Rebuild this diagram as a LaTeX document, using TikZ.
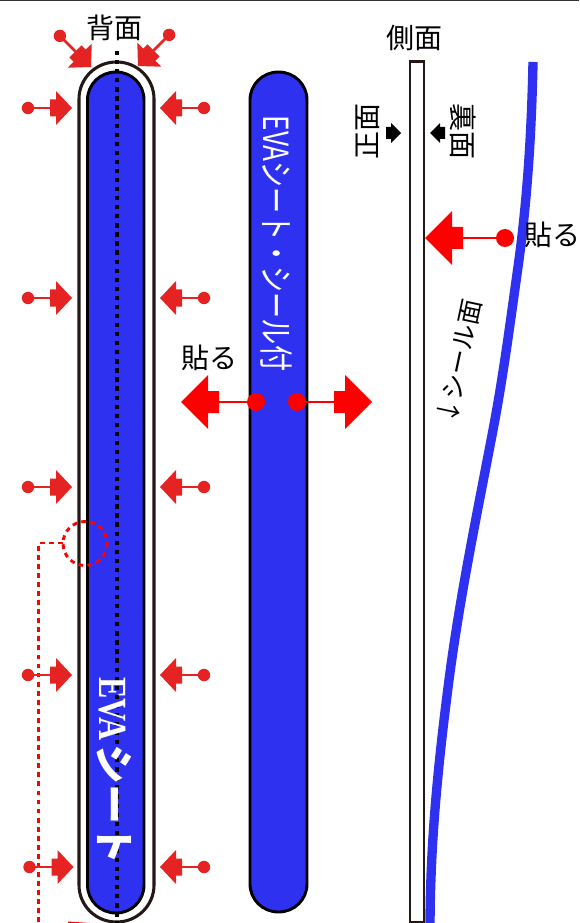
\documentclass[tikz,border=0pt]{standalone}
\usepackage{graphicx}
\usepackage{fontspec}
\setmainfont{Noto Sans CJK JP}
\newfontfamily\latinserif{Liberation Serif}
\definecolor{sheet}{HTML}{2E32F0}
\definecolor{pushred}{HTML}{E52322}
\definecolor{stick}{HTML}{231815}
\tikzset{
  x=0.75pt,y=-0.75pt,
  pusher/.pic={
    \fill (0,0) -- (-16,-17) -- (-16,-8.5) -- (-22,-8.5) -- (-22,8.5) -- (-16,8.5) -- (-16,17) -- cycle;
    \draw[line width=2pt,pushred] (-22,0) -- (-44,0);
    \fill (-44,0) circle[radius=6.2];
  },
  bigpusher/.pic={
    \fill (0,0) -- (-27,-27) -- (-27,-11) -- (-38,-11) -- (-38,11) -- (-27,11) -- (-27,27) -- cycle;
    \draw[line width=0.9pt,red] (-38,0) -- (-75,0);
    \fill (-75,0) circle[radius=9];
  },
  widepusher/.pic={
    \fill (0,0) -- (-27,-27) -- (-27,-11) -- (-38,-11) -- (-38,11) -- (-27,11) -- (-27,27) -- cycle;
    \draw[line width=0.9pt,red] (-38,0) -- (-80,0);
    \fill (-80,0) circle[radius=9];
  },
  smalltip/.pic={
    \fill (0,0) -- (-10,-10) -- (-10,-6) -- (-15,-6) -- (-15,6) -- (-10,6) -- (-10,10) -- cycle;
  },
  label/.style={inner sep=0pt,font=\fontsize{21pt}{21pt}\selectfont},
  redmark/.style={draw=red,line width=2.2pt,dash pattern=on 3.6pt off 3.2pt},
  capsule/.style={fill=sheet,draw=black,line width=2.2pt}
}
\begin{document}
\begin{tikzpicture}
\useasboundingbox (0,0) rectangle (579,923);
\begin{scope}
\clip (0,0) rectangle (579,923);
% top rule
\draw[black!80,line width=1.1pt] (0,0.6) -- (579,0.6);
% left: outer outline and sheet
\draw[stick,line width=2.3pt] (79,99) .. controls (79,78.6) and (95.6,62) .. (116.5,62)
  .. controls (137.4,62) and (154,78.6) .. (154,99) -- (154,885)
  .. controls (154,905.4) and (137.4,922) .. (116.5,922)
  .. controls (95.6,922) and (79,905.4) .. (79,885) -- cycle;
\draw[capsule] (87.5,100) .. controls (87.5,84.5) and (100,72) .. (116,72)
  .. controls (132,72) and (144,84.5) .. (144,100) -- (144,885)
  .. controls (144,900.5) and (132,913) .. (116,913)
  .. controls (100,913) and (87.5,900.5) .. (87.5,885) -- cycle;
\draw[black,line width=3pt,dash pattern=on 3.2pt off 3.6pt] (117,51) -- (117,923);
% middle sheet
\draw[capsule] (250,100) .. controls (250,84.5) and (262.5,72) .. (278.5,72)
  .. controls (294.5,72) and (307,84.5) .. (307,100) -- (307,884)
  .. controls (307,899.5) and (294.5,912) .. (278.5,912)
  .. controls (262.5,912) and (250,899.5) .. (250,884) -- cycle;
% side view
\draw[stick,line width=2.2pt,fill=white] (410,61.5) rectangle (424,922);
\draw[sheet,line width=7pt] (533,62) .. controls (531.6,130) and (527.5,199) .. (518,267)
  .. controls (510.4,321) and (503.3,376) .. (493,430)
  .. controls (477.2,513) and (459.8,597) .. (449,680)
  .. controls (438.5,761) and (430,842) .. (430,930);
% dashed detail marker
\draw[redmark] (85,543.5) circle[radius=22];
\draw[redmark] (63,543) -- (38.5,543) -- (38.5,923);
\fill[red] (68,921.5) -- (90,923) -- (68,923) -- cycle;
% pressing arrows, left
\foreach \yy in {108,298,487,675}{
  \pic[pushred] at (72,\yy) {pusher};
  \pic[pushred,rotate=180] at (160,\yy) {pusher};
}
\pic[pushred] at (73.5,867) {pusher};
\pic[pushred,rotate=180] at (160,867) {pusher};
\pic[pushred,rotate=-45] at (91,67) {pusher};
\pic[pushred,rotate=-135] at (138,66) {pusher};
% big arrows
\pic[red,rotate=180] at (181,402) {bigpusher};
\pic[red] at (372,402) {bigpusher};
\pic[red,rotate=180] at (425,238) {widepusher};
% small black arrows
\pic[black] at (401,133) {smalltip};
\pic[black,rotate=180] at (430,133) {smalltip};
\end{scope}
% labels
\node[label] (back) at (114,28) {背面};
\node[label] (side) at (414,38) {側面};
\node[label,anchor=east] (stickR) at (581,235) {貼る};
\node[label] (stickM) at (209,358) {貼る};
\node[label,rotate=90] (front) at (368,132) {正面};
\node[label,rotate=-90] (rear) at (463,132) {裏面};
\node[label,rotate=78,font=\fontsize{19pt}{19pt}\selectfont] (seal) at (459,362) {↓シール面};
\node[label,rotate=-90,text=white,font=\fontsize{26pt}{26pt}\selectfont] (evaseal) at (277,243.5) {\scalebox{0.755}[1]{EVAシート・シール付}};
\node[label,rotate=-90,text=white,font=\fontsize{30pt}{30pt}\selectfont\bfseries] (eva) at (114,771) {\scalebox{0.8}[1]{\latinserif\bfseries EVA}\hspace{3pt}シート};
\end{tikzpicture}
\end{document}
